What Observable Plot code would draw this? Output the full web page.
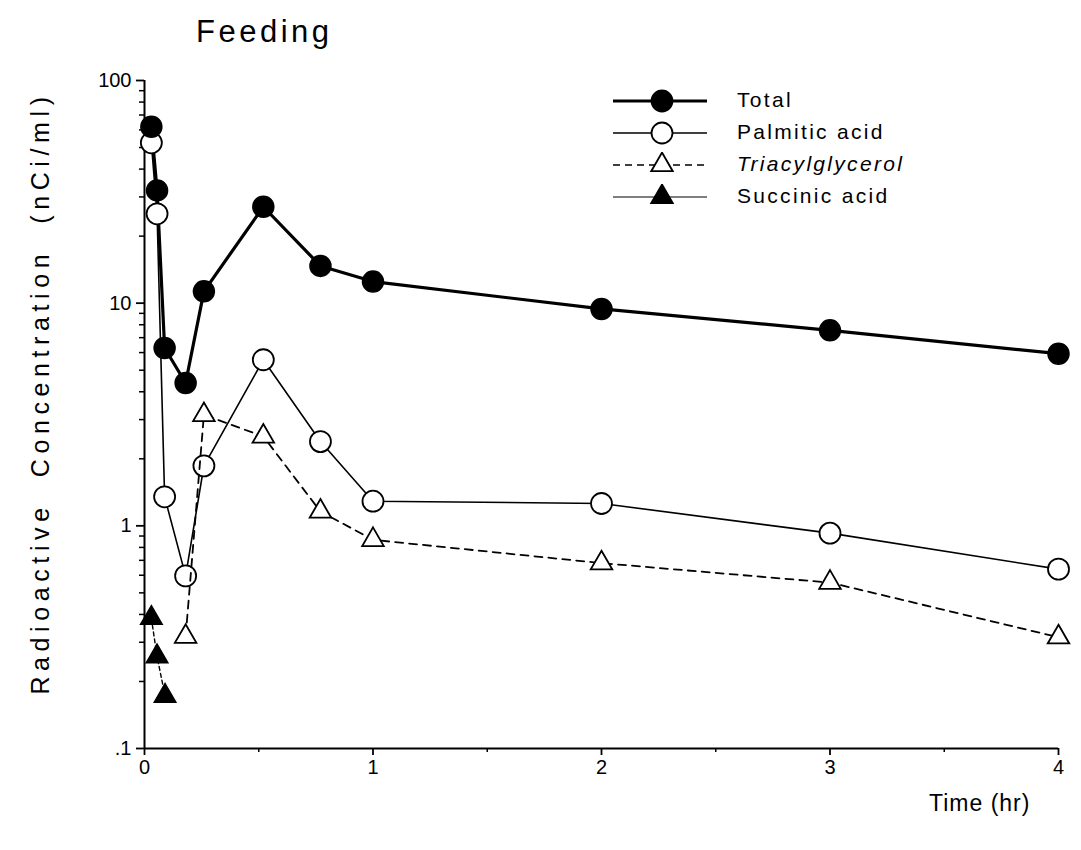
<!DOCTYPE html>
<html>
<head>
<meta charset="utf-8">
<script src="https://cdn.jsdelivr.net/npm/d3@7"></script>
<script src="https://cdn.jsdelivr.net/npm/@observablehq/plot@0.6"></script>
<style>
  html, body { margin: 0; padding: 0; background: white; }
  #wrap { position: relative; width: 1081px; height: 850px; font-family: "Liberation Sans", Arial, sans-serif; color: black; }
  #chart { position: absolute; left: 0; top: 0; }
  .title { position: absolute; left: 196px; top: 14px; font-size: 31px; letter-spacing: 3.5px; }
  .ylab { position: absolute; left: 40px; top: 393px; transform: translate(-50%, -50%) rotate(-90deg); white-space: pre; font-size: 25px; letter-spacing: 5.6px; }
  .xlab { position: absolute; left: 929px; top: 790px; font-size: 23px; letter-spacing: 1px; }
  .leg { position: absolute; left: 610px; }
  .leg svg { position: absolute; left: 0; top: 0; }
  .leg span { position: absolute; left: 127px; top: 0; font-size: 21px; letter-spacing: 2.3px; white-space: nowrap; }
</style>
</head>
<body>
<div id="wrap"></div>
<script>
// ---- data ----
const timesMain = [0.03, 0.055, 0.088, 0.18, 0.26, 0.52, 0.77, 1, 2, 3, 4];
const totalValues = [62, 32.1, 6.29, 4.38, 11.3, 27.1, 14.7, 12.5, 9.42, 7.55, 5.93];
const palmiticValues = [52.5, 25.2, 1.35, 0.596, 1.86, 5.57, 2.39, 1.29, 1.26, 0.927, 0.639];
const triTimes = [0.18, 0.26, 0.52, 0.77, 1, 2, 3, 4];
const triValues = [0.318, 3.15, 2.52, 1.16, 0.865, 0.68, 0.556, 0.316];
const succTimes = [0.03, 0.055, 0.09];
const succValues = [0.385, 0.259, 0.172];

const xTicks = [0, 1, 2, 3, 4];
const xMinorTicks = [0.5, 1.5, 2.5, 3.5];
const yTicks = [0.1, 1, 10, 100];
const yTickLabels = [".1", "1", "10", "100"];
const yMinorTicks = [0.1, 1, 10].flatMap(d => [2,3,4,5,6,7,8,9].map(k => d * k));

const legendNames = ["Total", "Palmitic acid", "Triacylglycerol", "Succinic acid"];

const rows = (ts, vs) => ts.map((t, i) => ({t, v: vs[i]}));
const total = rows(timesMain, totalValues);
const palm = rows(timesMain, palmiticValues);
const tri = rows(triTimes, triValues);
const succ = rows(succTimes, succValues);

const chart = Plot.plot({
  width: 1081,
  height: 850,
  marginLeft: 144,
  marginRight: 23,
  marginTop: 80,
  marginBottom: 102,
  style: { fontFamily: "'Liberation Sans', Arial, sans-serif", fontSize: "20px", background: "white", color: "black" },
  x: { domain: [0, 4] },
  y: { type: "log", domain: [0.1, 100] },
  marks: [
    Plot.axisX({ ticks: xTicks, tickSize: 7, tickPadding: 4, tickFormat: d => String(d), label: null, fontSize: 20, strokeWidth: 1.8 }),
    Plot.axisX({ ticks: xMinorTicks, tickSize: 4, tickFormat: () => "", label: null, strokeWidth: 1.5 }),
    Plot.axisY({ ticks: yTicks, tickSize: 8, tickPadding: 5, tickFormat: d => yTickLabels[yTicks.indexOf(d)], label: null, fontSize: 20, strokeWidth: 1.8 }),
    Plot.axisY({ ticks: yMinorTicks, tickSize: 5, tickFormat: () => "", label: null, strokeWidth: 1.5 }),
    Plot.ruleX([0], { strokeWidth: 2 }),
    Plot.ruleY([0.1], { strokeWidth: 2 }),
    Plot.line(total, { x: "t", y: "v", stroke: "black", strokeWidth: 3.2 }),
    Plot.line(palm, { x: "t", y: "v", stroke: "black", strokeWidth: 1.6 }),
    Plot.dot(palm, { x: "t", y: "v", r: 10.5, fill: "white", stroke: "black", strokeWidth: 1.8 }),
    Plot.line(tri, { x: "t", y: "v", stroke: "black", strokeWidth: 1.8, strokeDasharray: "8,6" }),
    Plot.line(succ, { x: "t", y: "v", stroke: "black", strokeWidth: 1.4, strokeDasharray: "4,3" }),
    Plot.dot(total, { x: "t", y: "v", r: 10.5, fill: "black", stroke: "black" }),
    Plot.dot(tri, { x: "t", y: "v", symbol: "triangle", r: 8, fill: "white", stroke: "black", strokeWidth: 1.8 }),
    Plot.dot(succ, { x: "t", y: "v", symbol: "triangle", r: 8, fill: "black", stroke: "black" })
  ]
});
chart.id = "chart";
const wrap = document.getElementById("wrap");
wrap.appendChild(chart);

function addDiv(cls, text) {
  const d = document.createElement("div");
  d.className = cls;
  d.textContent = text;
  wrap.appendChild(d);
  return d;
}
addDiv("title", "Feeding");
addDiv("ylab", "Radioactive  Concentration  (nCi/ml)");
addDiv("xlab", "Time (hr)");

// legend
const legendStyles = [
  { sw: 3.2, dash: null, sym: "circle", fill: "black" },
  { sw: 1.6, dash: null, sym: "circle", fill: "white" },
  { sw: 1.6, dash: "7,5", sym: "triangle", fill: "white" },
  { sw: 1.2, dash: null, sym: "triangle", fill: "black" }
];
const legendTops = [101, 133, 165, 197];
legendNames.forEach((name, i) => {
  const st = legendStyles[i];
  const row = document.createElement("div");
  row.className = "leg";
  row.style.top = (legendTops[i] - 13) + "px";
  const ns = "http://www.w3.org/2000/svg";
  const svg = document.createElementNS(ns, "svg");
  svg.setAttribute("width", 100);
  svg.setAttribute("height", 26);
  const ln = document.createElementNS(ns, "line");
  ln.setAttribute("x1", 3); ln.setAttribute("x2", 97);
  ln.setAttribute("y1", 13); ln.setAttribute("y2", 13);
  ln.setAttribute("stroke", "black");
  ln.setAttribute("stroke-width", st.sw);
  if (st.dash) ln.setAttribute("stroke-dasharray", st.dash);
  svg.appendChild(ln);
  const p = document.createElementNS(ns, "path");
  const sym = st.sym === "circle" ? d3.symbolCircle : d3.symbolTriangle;
  const r = st.sym === "circle" ? 10.5 : 8;
  p.setAttribute("d", d3.symbol(sym, Math.PI * r * r)());
  p.setAttribute("transform", "translate(52,13)");
  p.setAttribute("fill", st.fill);
  p.setAttribute("stroke", "black");
  p.setAttribute("stroke-width", 1.8);
  svg.appendChild(p);
  row.appendChild(svg);
  const sp = document.createElement("span");
  sp.textContent = name;
  if (i === 2) sp.style.fontStyle = "italic";
  row.appendChild(sp);
  wrap.appendChild(row);
});
</script>
</body>
</html>
